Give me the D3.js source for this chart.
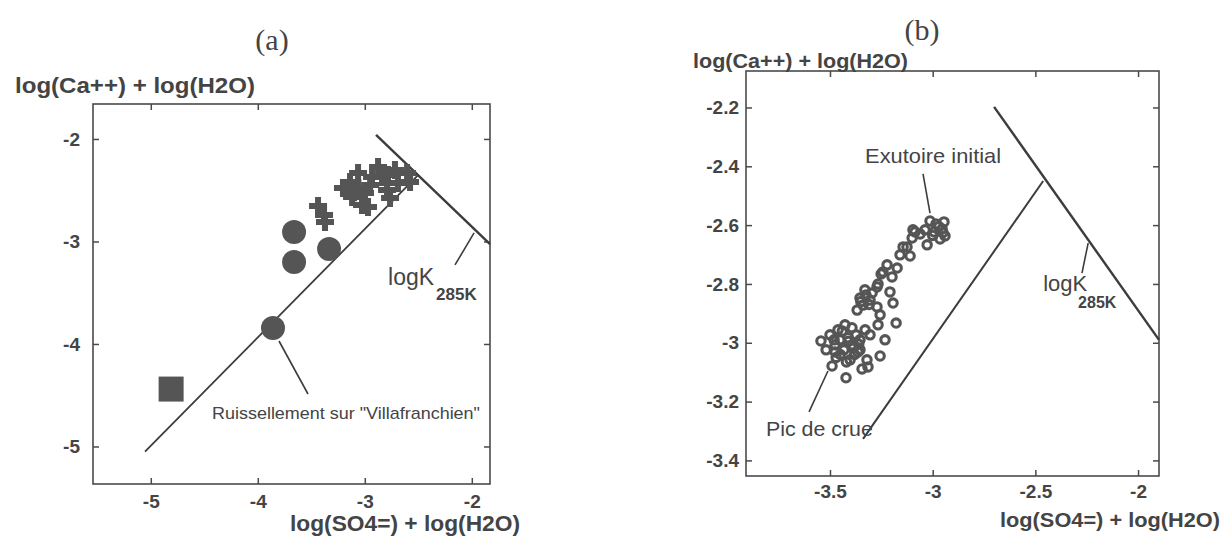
<!DOCTYPE html>
<html>
<head>
<meta charset="utf-8">
<script src="https://cdnjs.cloudflare.com/ajax/libs/d3/7.8.5/d3.min.js"></script>
<style>
  body { margin: 0; background: #fff; }
  svg text { font-family: "Liberation Sans", Arial, sans-serif; fill: #444; }
</style>
</head>
<body>
<svg id="chart" width="1223" height="538"></svg>
<script>
// ---- Panel (a) values ----
const aXDomain = [-5.54, -1.83];
const aYDomain = [-5.366, -1.659];
const aXTicks = [-5, -4, -3, -2];
const aYTicks = [-5, -4, -3, -2];

// Crosses (sources), filled circles and the square.
const aCrosses = [
    [-3.437, -2.654], [-3.381, -2.741], [-3.372, -2.81],
    [-3.204, -2.478], [-3.063, -2.332], [-3.026, -2.644], [-2.998, -2.527],
    [-2.932, -2.371], [-2.876, -2.273], [-2.839, -2.371], [-2.792, -2.498],
    [-2.764, -2.576], [-2.970, -2.663], [-3.119, -2.566], [-2.783, -2.351],
    [-2.605, -2.332], [-2.577, -2.42], [-3.138, -2.42], [-2.718, -2.302],
    [-2.69, -2.43], [-3.06, -2.48], [-2.95, -2.45], [-3.1, -2.52]
];
const aCircles = [[-3.661, -2.907], [-3.661, -3.2], [-3.334, -3.073], [-3.858, -3.844]];
const aSquares = [[-4.81, -4.44]];

// Lines: equilibrium diagonal and logK(285K) line.
const aLowerLine = [[-5.054, -5.05], [-2.5, -2.35]];
const aLogKLine = [[-2.895, -1.96], [-1.83, -3.025]];

// ---- Panel (b) values ----
const bXDomain = [-3.909, -1.898];
const bYDomain = [-3.453, -2.076];
const bXTicks = [-3.5, -3, -2.5, -2];
const bYTicks = [-3.4, -3.2, -3, -2.8, -2.6, -2.4, -2.2];

const bSamples = [
    [-3.544, -2.994], [-3.490, -3.079], [-3.422, -3.119], [-3.344, -3.089],
    [-3.315, -3.082], [-3.256, -3.045], [-3.232, -2.990], [-3.178, -2.933],
    [-3.266, -2.939], [-3.256, -2.905], [-3.193, -2.865], [-3.208, -2.827],
    [-3.266, -2.800], [-3.251, -2.766], [-3.222, -2.735], [-3.198, -2.776],
    [-3.173, -2.746], [-3.159, -2.701], [-3.110, -2.705], [-3.125, -2.674],
    [-3.100, -2.644], [-3.086, -2.623], [-3.027, -2.667], [-3.271, -2.878],
    [-3.305, -2.973], [-3.329, -2.956], [-3.475, -3.031], [-3.388, -3.018],
    [-3.354, -3.024], [-3.320, -3.058], [-3.096, -2.616], [-3.144, -2.674],
    [-3.242, -2.759], [-3.271, -2.810],
    // Exutoire initial cluster
    [-3.013, -2.586], [-2.984, -2.596], [-2.954, -2.613], [-2.940, -2.637],
    [-2.964, -2.647], [-2.993, -2.623], [-3.037, -2.616], [-3.061, -2.630],
    [-2.945, -2.589], [-2.97, -2.605], [-2.95, -2.625], [-3.0, -2.635],
    // middle cluster
    [-3.354, -2.848], [-3.325, -2.838], [-3.305, -2.855], [-3.339, -2.872],
    [-3.368, -2.889], [-3.295, -2.831], [-3.35, -2.86], [-3.31, -2.87],
    [-3.33, -2.82],
    // Pic de crue cluster
    [-3.461, -2.956], [-3.427, -2.939], [-3.393, -2.949], [-3.451, -2.990],
    [-3.412, -2.983], [-3.373, -2.973], [-3.475, -3.007], [-3.432, -3.024],
    [-3.393, -3.007], [-3.354, -2.990], [-3.500, -2.973], [-3.519, -3.024],
    [-3.364, -3.031], [-3.402, -3.058], [-3.44, -2.96], [-3.48, -2.99],
    [-3.41, -2.995], [-3.45, -3.04], [-3.38, -3.04], [-3.42, -3.065],
    [-3.47, -3.05], [-3.36, -3.005]
];

const bLowerLine = [[-3.339, -3.327], [-2.462, -2.45]];
const bLogKLine = [[-2.701, -2.198], [-1.898, -2.99]];

const svg = d3.select("#chart");
const ink = "#4a4a4a";

function drawFrame(g, x, y, w, h, xTicks, yTicks, xPad, yPad) {
    /*
    Draws the box with inward ticks on all four sides, labels bottom and left.
    */
    let fmt = d => String(d);

    let bottom = g.append("g").attr("transform", `translate(0,${h})`)
        .call(d3.axisBottom(x).tickValues(xTicks).tickSize(-6).tickPadding(xPad).tickFormat(fmt));
    let left = g.append("g")
        .call(d3.axisLeft(y).tickValues(yTicks).tickSize(-6).tickPadding(yPad).tickFormat(fmt));
    let top = g.append("g")
        .call(d3.axisTop(x).tickValues(xTicks).tickSize(-6).tickFormat(""));
    let right = g.append("g").attr("transform", `translate(${w},0)`)
        .call(d3.axisRight(y).tickValues(yTicks).tickSize(-6).tickFormat(""));

    [bottom, left, top, right].forEach(function(a) {
        a.select(".domain").remove();
        a.selectAll(".tick line").attr("stroke", ink).attr("stroke-width", 1.5);
        a.selectAll(".tick text")
            .attr("fill", ink)
            .style("font-size", "19px")
            .style("font-weight", "bold");
    });

    g.append("rect")
        .attr("width", w).attr("height", h)
        .attr("fill", "none").attr("stroke", ink).attr("stroke-width", 1.6);
}

function drawLine(g, x, y, pts, width) {
    g.append("path")
        .datum(pts)
        .attr("d", d3.line().x(d => x(d[0])).y(d => y(d[1])))
        .attr("fill", "none")
        .attr("stroke", "#3c3c3c")
        .attr("stroke-width", width);
}

function leader(g, x, y, from, to) {
    g.append("line")
        .attr("x1", x(from[0])).attr("y1", y(from[1]))
        .attr("x2", x(to[0])).attr("y2", y(to[1]))
        .attr("stroke", "#3c3c3c").attr("stroke-width", 1.6);
}

function label(g, x, y, at, txt, size, len) {
    let t = g.append("text")
        .attr("x", x(at[0])).attr("y", y(at[1]))
        .style("font-size", size + "px")
        .text(txt);
    if (len) t.attr("textLength", len).attr("lengthAdjust", "spacingAndGlyphs");
    return t;
}

// ================= Panel (a) =================
let aBox = {left: 93, top: 104, width: 397, height: 380};
let ax = d3.scaleLinear().domain(aXDomain).range([0, aBox.width]);
let ay = d3.scaleLinear().domain(aYDomain).range([aBox.height, 0]);
let ga = svg.append("g").attr("transform", `translate(${aBox.left},${aBox.top})`);

drawFrame(ga, ax, ay, aBox.width, aBox.height, aXTicks, aYTicks, 11, 13);
drawLine(ga, ax, ay, aLowerLine, 1.8);
drawLine(ga, ax, ay, aLogKLine, 2.4);

ga.selectAll(".cross").data(aCrosses).enter().append("path")
    .attr("class", "cross")
    .attr("transform", d => `translate(${ax(d[0])},${ay(d[1])})`)
    .attr("d", d3.symbol(d3.symbolCross).size(180))
    .attr("fill", "#555");

ga.selectAll(".dot").data(aCircles).enter().append("circle")
    .attr("class", "dot")
    .attr("cx", d => ax(d[0])).attr("cy", d => ay(d[1]))
    .attr("r", 12)
    .attr("fill", "#555");

ga.selectAll(".sq").data(aSquares).enter().append("path")
    .attr("class", "sq")
    .attr("transform", d => `translate(${ax(d[0])},${ay(d[1])})`)
    .attr("d", d3.symbol(d3.symbolSquare).size(625))
    .attr("fill", "#555");

// annotations (a)
leader(ga, ax, ay, [-3.802, -3.971], [-3.531, -4.488]);
label(ga, ax, ay, [-4.428, -4.732], "Ruissellement sur \"Villafranchien\"", 17, 268);
leader(ga, ax, ay, [-1.979, -2.917], [-2.157, -3.229]);
label(ga, ax, ay, [-2.783, -3.424], "logK", 23);
label(ga, ax, ay, [-2.334, -3.571], "285K", 17).style("font-weight", "bold");

// titles (a)
svg.append("text").attr("x", 272).attr("y", 50).attr("text-anchor", "middle")
    .style("font-family", "'Liberation Serif', 'Times New Roman', serif")
    .style("font-size", "30px").text("(a)");
svg.append("text").attr("x", 15).attr("y", 93)
    .style("font-size", "22px").style("font-weight", "bold")
    .attr("textLength", 240).attr("lengthAdjust", "spacingAndGlyphs")
    .text("log(Ca++) + log(H2O)");
svg.append("text").attr("x", 290).attr("y", 531)
    .style("font-size", "22px").style("font-weight", "bold")
    .attr("textLength", 230).attr("lengthAdjust", "spacingAndGlyphs")
    .text("log(SO4=) + log(H2O)");

// ================= Panel (b) =================
let bBox = {left: 746, top: 71, width: 413, height: 405};
let bx = d3.scaleLinear().domain(bXDomain).range([0, bBox.width]);
let by = d3.scaleLinear().domain(bYDomain).range([bBox.height, 0]);
let gb = svg.append("g").attr("transform", `translate(${bBox.left},${bBox.top})`);

drawFrame(gb, bx, by, bBox.width, bBox.height, bXTicks, bYTicks, 9, 7);
drawLine(gb, bx, by, bLowerLine, 2);
drawLine(gb, bx, by, bLogKLine, 2.4);

gb.selectAll(".ring").data(bSamples).enter().append("circle")
    .attr("class", "ring")
    .attr("cx", d => bx(d[0])).attr("cy", d => by(d[1]))
    .attr("r", 4.2)
    .attr("fill", "none")
    .attr("stroke", "#555")
    .attr("stroke-width", 3.1);

// annotations (b)
leader(gb, bx, by, [-3.047, -2.426], [-3.013, -2.559]);
label(gb, bx, by, [-3.329, -2.389], "Exutoire initial", 21, 136);
leader(gb, bx, by, [-3.602, -3.235], [-3.510, -3.096]);
label(gb, bx, by, [-3.812, -3.317], "Pic de crue", 21, 107);
leader(gb, bx, by, [-2.243, -2.661], [-2.273, -2.763]);
label(gb, bx, by, [-2.462, -2.824], "logK", 22);
label(gb, bx, by, [-2.292, -2.882], "285K", 16).style("font-weight", "bold");

// titles (b)
svg.append("text").attr("x", 922).attr("y", 40).attr("text-anchor", "middle")
    .style("font-family", "'Liberation Serif', 'Times New Roman', serif")
    .style("font-size", "30px").text("(b)");
svg.append("text").attr("x", 693).attr("y", 68)
    .style("font-size", "21px").style("font-weight", "bold")
    .attr("textLength", 215).attr("lengthAdjust", "spacingAndGlyphs")
    .text("log(Ca++) + log(H2O)");
svg.append("text").attr("x", 1000).attr("y", 527)
    .style("font-size", "21px").style("font-weight", "bold")
    .attr("textLength", 220).attr("lengthAdjust", "spacingAndGlyphs")
    .text("log(SO4=) + log(H2O)");
</script>
</body>
</html>
